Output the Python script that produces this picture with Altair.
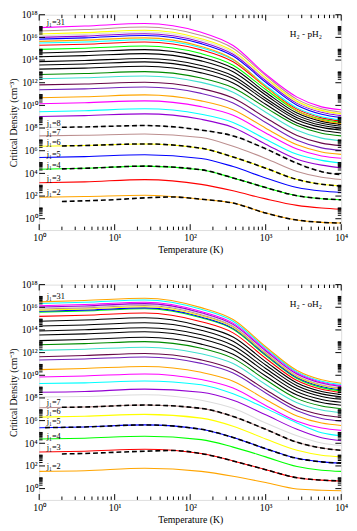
import altair as alt
import pandas as pd

# ---------------- data (log10 of critical density) ----------------
T_GRID = [1, 4, 25, 140, 370, 1000, 2600, 5500, 10000]
T_DASH_A = [2, 4, 10, 25, 60, 140, 370, 1000, 2600, 5500, 10000]
T_DASH_B = [2, 4, 25, 140, 370, 1000, 2600, 5500, 10000]
T_DASH_C = [1.2, 4, 25, 140, 370, 1000, 2600, 5500, 10000]

# H2 - pH2 (top panel), j1 = 2 ... 31
p02 = [1.90, 1.96, 2.07, 1.72, 1.38, 0.50, -0.12, -0.32, -0.38]
p03 = [3.18, 3.25, 3.45, 3.03, 2.46, 1.75, 1.18, 0.95, 0.84]
p04 = [4.37, 4.45, 4.64, 4.32, 3.60, 2.75, 2.03, 1.77, 1.67]
p05 = [5.40, 5.48, 5.64, 5.32, 4.60, 3.60, 2.75, 2.44, 2.32]
p06 = [6.39, 6.46, 6.60, 6.22, 5.45, 4.46, 3.46, 3.04, 2.89]
p07 = [7.31, 7.36, 7.47, 7.16, 6.39, 5.32, 4.17, 3.66, 3.46]
p08 = [8.05, 8.10, 8.22, 7.82, 7.31, 6.17, 4.89, 4.15, 3.89]
p09 = [9.02, 9.10, 9.25, 8.77, 8.06, 6.58, 5.25, 4.73, 4.49]
p10 = [9.44, 9.53, 9.70, 9.22, 8.50, 7.02, 5.68, 5.15, 4.91]
p11 = [10.15, 10.24, 10.40, 9.89, 9.13, 7.57, 6.15, 5.54, 5.34]
p12 = [10.67, 10.76, 10.93, 10.40, 9.62, 7.99, 6.52, 5.89, 5.68]
p13 = [11.38, 11.46, 11.62, 11.06, 10.22, 8.49, 6.92, 6.25, 6.03]
p14 = [11.81, 11.89, 12.05, 11.49, 10.65, 8.91, 7.35, 6.67, 6.45]
p15 = [12.35, 12.44, 12.60, 12.03, 11.17, 9.40, 7.80, 7.11, 6.88]
p16 = [12.72, 12.81, 12.98, 12.41, 11.56, 9.80, 8.22, 7.54, 7.31]
p17 = [13.20, 13.29, 13.46, 12.87, 11.98, 10.10, 8.44, 7.80, 7.56]
p18 = [13.57, 13.66, 13.84, 13.24, 12.33, 10.41, 8.72, 8.06, 7.82]
p19 = [13.86, 13.96, 14.14, 13.52, 12.60, 10.63, 8.91, 8.24, 7.99]
p20 = [14.29, 14.39, 14.57, 13.93, 12.97, 10.92, 9.12, 8.42, 8.16]
p21 = [14.63, 14.73, 14.92, 14.26, 13.27, 11.16, 9.32, 8.59, 8.33]
p22 = [14.94, 15.05, 15.24, 14.57, 13.55, 11.40, 9.51, 8.77, 8.50]
p23 = [15.30, 15.40, 15.60, 14.90, 13.85, 11.62, 9.67, 8.90, 8.62]
p24 = [15.50, 15.60, 15.80, 15.09, 14.03, 11.76, 9.78, 9.00, 8.72]
p25 = [15.65, 15.76, 15.96, 15.20, 14.07, 11.65, 9.53, 8.70, 8.40]
p26 = [15.85, 15.96, 16.17, 15.45, 14.36, 12.04, 10.02, 9.22, 8.93]
p27 = [16.00, 16.11, 16.32, 15.60, 14.51, 12.20, 10.18, 9.39, 9.10]
p28 = [16.15, 16.27, 16.48, 15.75, 14.66, 12.32, 10.28, 9.48, 9.19]
p29 = [16.30, 16.42, 16.63, 15.89, 14.79, 12.43, 10.37, 9.56, 9.27]
p30 = [16.57, 16.69, 16.92, 16.17, 15.04, 12.63, 10.53, 9.70, 9.40]
p31 = [16.86, 17.00, 17.22, 16.45, 15.28, 12.75, 10.73, 9.87, 9.62]

# H2 - oH2 (bottom panel), j1 = 2 ... 31
o02 = [1.52, 1.58, 1.80, 1.52, 1.09, 0.53, -0.04, -0.15, -0.19]
o03 = [3.23, 3.30, 3.48, 3.09, 2.44, 1.67, 0.96, 0.75, 0.67]
o04 = [4.37, 4.45, 4.62, 4.32, 3.66, 2.80, 1.95, 1.62, 1.52]
o05 = [5.37, 5.44, 5.62, 5.23, 4.51, 3.52, 2.67, 2.36, 2.24]
o06 = [6.31, 6.38, 6.55, 6.22, 5.51, 4.38, 3.38, 2.95, 2.80]
o07 = [7.14, 7.20, 7.37, 7.08, 6.37, 5.23, 4.09, 3.58, 3.38]
o08 = [8.08, 8.12, 8.28, 7.79, 7.08, 5.79, 4.66, 4.02, 3.80]
o09 = [8.50, 8.57, 8.78, 8.50, 7.79, 6.51, 5.23, 4.48, 4.23]
o10 = [9.27, 9.33, 9.50, 9.16, 8.36, 7.08, 5.79, 4.93, 4.66]
o11 = [9.85, 9.94, 10.12, 9.62, 8.87, 7.33, 5.94, 5.34, 5.14]
o12 = [10.50, 10.60, 10.78, 10.26, 9.48, 7.86, 6.40, 5.78, 5.57]
o13 = [11.35, 11.44, 11.62, 11.05, 10.20, 8.44, 6.86, 6.18, 5.95]
o14 = [11.64, 11.74, 11.92, 11.36, 10.51, 8.72, 7.14, 6.52, 6.30]
o15 = [12.20, 12.30, 12.48, 11.90, 11.03, 9.19, 7.57, 6.93, 6.70]
o16 = [12.69, 12.79, 12.97, 12.38, 11.49, 9.60, 7.94, 7.29, 7.05]
o17 = [13.06, 13.16, 13.35, 12.75, 11.85, 9.93, 8.25, 7.59, 7.35]
o18 = [13.55, 13.65, 13.84, 13.22, 12.28, 10.29, 8.55, 7.87, 7.62]
o19 = [13.91, 14.01, 14.20, 13.57, 12.62, 10.60, 8.83, 8.13, 7.88]
o20 = [14.34, 14.44, 14.63, 13.98, 13.00, 10.91, 9.08, 8.36, 8.10]
o21 = [14.77, 14.87, 15.07, 14.33, 13.38, 11.21, 9.32, 8.57, 8.30]
o22 = [15.20, 15.30, 15.50, 14.73, 13.74, 11.50, 9.53, 8.76, 8.48]
o23 = [15.57, 15.67, 15.87, 15.07, 14.06, 11.74, 9.71, 8.91, 8.62]
o24 = [15.65, 15.75, 15.95, 15.15, 14.14, 11.83, 9.80, 9.01, 8.72]
o25 = [15.75, 15.85, 16.05, 15.25, 14.24, 11.92, 9.89, 9.09, 8.80]
o26 = [15.85, 15.95, 16.15, 15.35, 14.33, 12.01, 9.97, 9.17, 8.88]
o27 = [15.95, 16.05, 16.25, 15.45, 14.42, 12.09, 10.04, 9.24, 8.95]
o28 = [16.02, 16.12, 16.32, 15.52, 14.49, 12.16, 10.11, 9.31, 9.02]
o29 = [16.14, 16.24, 16.44, 15.63, 14.60, 12.26, 10.20, 9.39, 9.10]
o30 = [16.34, 16.44, 16.64, 15.82, 14.77, 12.39, 10.30, 9.48, 9.18]
o31 = [16.48, 16.60, 16.80, 15.97, 14.92, 12.52, 10.42, 9.60, 9.30]

# dashed black comparison curves
pd02 = [1.52, 1.58, 1.68, 1.84, 1.92, 1.72, 1.38, 0.50, -0.12, -0.32, -0.38]   # T_DASH_A
pd04 = [4.40, 4.45, 4.64, 4.32, 3.60, 2.75, 2.03, 1.77, 1.67]                  # T_DASH_B
pd06 = [6.42, 6.46, 6.60, 6.22, 5.45, 4.46, 3.46, 3.04, 2.89]                  # T_DASH_B
pd08 = [8.07, 8.10, 8.22, 7.82, 7.31, 6.17, 4.89, 4.15, 3.89]                  # T_DASH_B
od03 = [3.06, 3.10, 3.20, 3.30, 3.36, 3.09, 2.44, 1.67, 0.96, 0.75, 0.67]      # T_DASH_A
od05 = [5.38, 5.44, 5.62, 5.23, 4.51, 3.52, 2.67, 2.36, 2.24]                  # T_DASH_C
od07 = [7.17, 7.20, 7.37, 7.08, 6.37, 5.23, 4.09, 3.58, 3.38]                  # T_DASH_B

# curve labels
P_LAB_TXT = ["j₁=31", "j₁=8", "j₁=7", "j₁=6", "j₁=5", "j₁=4", "j₁=3", "j₁=2"]
P_LAB_LOG = [17.33, 8.42, 7.68, 6.74, 5.74, 4.74, 3.61, 2.32]
O_LAB_TXT = ["j₁=31", "j₁=7", "j₁=6", "j₁=5", "j₁=4", "j₁=3", "j₁=2"]
O_LAB_LOG = [16.97, 7.65, 6.85, 5.94, 4.60, 3.66, 1.95]
LAB_T = 1.26

PANEL_TITLES = ["H₂ - pH₂", "H₂ - oH₂"]
TITLE_T = 3400
TITLE_LOG = [16.28, 16.3]

X_MAJOR_EXP = [0, 1, 2, 3, 4]
Y_MAJOR_EXP = [0, 2, 4, 6, 8, 10, 12, 14, 16, 18]
MINOR_MULT = [2, 3, 4, 5, 6, 7, 8, 9]

# ---------------- styles ----------------
BLACK = "#000000"; RED = "#ff0000"; GREEN = "#00ff00"; BLUE = "#0000ff"
YELLOW = "#ffff00"; BROWN = "#bc8f8f"; GREY = "#dcdcdc"; VIOLET = "#9400d3"
CYAN = "#00ffff"; MAGENTA = "#ff00ff"; ORANGE = "#ffa500"; INDIGO = "#7221bc"
MAROON = "#670748"; TURQ = "#40e0d0"; GREEN4 = "#008b00"

LOW_COLORS = [ORANGE, RED, GREEN, BLUE, YELLOW, BROWN, GREY, VIOLET, CYAN, MAGENTA,
              ORANGE, INDIGO, MAROON, TURQ, GREEN4, BLACK, BLACK, BLACK, BLACK, BLACK]
P_COLORS = LOW_COLORS + [GREEN, RED, CYAN, ORANGE, BLUE, VIOLET, GREY, YELLOW, BROWN, MAGENTA]
O_COLORS = LOW_COLORS + [RED, GREEN, BLUE, YELLOW, BROWN, GREY, VIOLET, MAGENTA, CYAN, ORANGE]

FONT = "Liberation Serif"
W, H = 310, 221

P_CURVES = [p02, p03, p04, p05, p06, p07, p08, p09, p10, p11, p12, p13, p14, p15, p16,
            p17, p18, p19, p20, p21, p22, p23, p24, p25, p26, p27, p28, p29, p30, p31]
O_CURVES = [o02, o03, o04, o05, o06, o07, o08, o09, o10, o11, o12, o13, o14, o15, o16,
            o17, o18, o19, o20, o21, o22, o23, o24, o25, o26, o27, o28, o29, o30, o31]
P_DASH = [(T_DASH_A, pd02), (T_DASH_B, pd04), (T_DASH_B, pd06), (T_DASH_B, pd08)]
O_DASH = [(T_DASH_A, od03), (T_DASH_C, od05), (T_DASH_B, od07)]

SUP = {"0": "⁰", "1": "¹", "2": "²", "3": "³", "4": "⁴", "5": "⁵",
       "6": "⁶", "7": "⁷", "8": "⁸", "9": "⁹"}
POW_LABELS = ["10" + "".join(SUP[c] for c in str(e)) for e in range(0, 19)]
LABEL_EXPR = "[" + ",".join("'%s'" % s for s in POW_LABELS) + "][round(log(datum.value)/LN10)]"

x_major = pd.DataFrame({"T": [10.0 ** e for e in X_MAJOR_EXP]})
x_minor = pd.DataFrame({"T": [m * 10.0 ** e for e in X_MAJOR_EXP[:-1] for m in MINOR_MULT]})
y_major = pd.DataFrame({"n": [10.0 ** e for e in Y_MAJOR_EXP]})
y_minor = pd.DataFrame({"n": [m * 10.0 ** e for e in Y_MAJOR_EXP[:-1] for m in MINOR_MULT]})

AX_COMMON = dict(labelFont=FONT, titleFont=FONT, labelFontSize=10, titleFontSize=10,
                 titleFontWeight="normal", labelColor="black", titleColor="black",
                 domain=False, ticks=False, grid=False, labelOverlap=False)


def xenc():
    return alt.X("T:Q", scale=alt.Scale(type="log", domain=[1, 10000]),
                 axis=alt.Axis(values=[10.0 ** e for e in X_MAJOR_EXP], labelExpr=LABEL_EXPR,
                               title="Temperature (K)", labelFlush=False,
                               labelPadding=3, titlePadding=2, **AX_COMMON))


def yenc():
    return alt.Y("n:Q", scale=alt.Scale(type="log", domain=[0.1, 1e18]),
                 axis=alt.Axis(values=[10.0 ** e for e in Y_MAJOR_EXP], labelExpr=LABEL_EXPR,
                               title="Critical Density (cm⁻³)",
                               labelPadding=2, titlePadding=2, **AX_COMMON))


def panel(curves, colors, dashes, lab_txt, lab_log, title, title_log):
    rows = []
    for j, (vals, col) in enumerate(zip(curves, colors), start=2):
        for t, v in zip(T_GRID, vals):
            rows.append({"j": j, "T": t, "lg": v, "col": col})
    df = pd.DataFrame(rows)
    drows = []
    for k, (ts, vals) in enumerate(dashes):
        for t, v in zip(ts, vals):
            drows.append({"k": k, "T": t, "lg": v})
    ddf = pd.DataFrame(drows)
    ldf = pd.DataFrame({"T": [LAB_T] * len(lab_txt), "lg": lab_log, "txt": lab_txt})
    tdf = pd.DataFrame({"T": [TITLE_T], "lg": [title_log], "txt": [title]})

    lines = alt.Chart(df).mark_line(interpolate="monotone", strokeWidth=1.1, clip=True).transform_calculate(
        n="pow(10, datum.lg)").encode(x=xenc(), y=yenc(), color=alt.Color("col:N", scale=None),
                                      detail="j:N", order="j:Q")
    dashed = alt.Chart(ddf).mark_line(interpolate="monotone", color="black", strokeWidth=1.6,
                                      strokeDash=[5, 3], clip=True).transform_calculate(
        n="pow(10, datum.lg)").encode(x=xenc(), y=yenc(), detail="k:N")
    labels = alt.Chart(ldf).mark_text(align="left", baseline="middle", font=FONT, fontSize=8.5,
                                      color="black").transform_calculate(
        n="pow(10, datum.lg)").encode(x=xenc(), y=yenc(), text="txt:N")
    ttl = alt.Chart(tdf).mark_text(align="center", baseline="middle", font=FONT, fontSize=9.5,
                                   color="black").transform_calculate(
        n="pow(10, datum.lg)").encode(x=xenc(), y=yenc(), text="txt:N")

    ticks = [
        alt.Chart(x_major).mark_rule(color="black").encode(x=xenc(), y=alt.value(H), y2=alt.value(H - 6)),
        alt.Chart(x_minor).mark_rule(color="black").encode(x=xenc(), y=alt.value(H), y2=alt.value(H - 3.5)),
        alt.Chart(x_major).mark_rule(color="black").encode(x=xenc(), y=alt.value(0), y2=alt.value(6)),
        alt.Chart(x_minor).mark_rule(color="black").encode(x=xenc(), y=alt.value(0), y2=alt.value(3.5)),
        alt.Chart(y_major).mark_rule(color="black").encode(y=yenc(), x=alt.value(0), x2=alt.value(6)),
        alt.Chart(y_minor).mark_rule(color="black").encode(y=yenc(), x=alt.value(0), x2=alt.value(3.5)),
        alt.Chart(y_major).mark_rule(color="black").encode(y=yenc(), x=alt.value(W), x2=alt.value(W - 6)),
        alt.Chart(y_minor).mark_rule(color="black").encode(y=yenc(), x=alt.value(W), x2=alt.value(W - 3.5)),
    ]
    return alt.layer(lines, dashed, labels, ttl, *ticks).properties(width=W, height=H)


top = panel(P_CURVES, P_COLORS, P_DASH, P_LAB_TXT, P_LAB_LOG, PANEL_TITLES[0], TITLE_LOG[0])
bottom = panel(O_CURVES, O_COLORS, O_DASH, O_LAB_TXT, O_LAB_LOG, PANEL_TITLES[1], TITLE_LOG[1])

chart = alt.vconcat(top, bottom, spacing=24).configure_view(
    stroke="black", strokeWidth=1).configure(
    padding={"top": -6, "left": 0, "right": 0, "bottom": 0}, background="white")

chart.save("out.html", embed_options={"renderer": "svg", "actions": False})
